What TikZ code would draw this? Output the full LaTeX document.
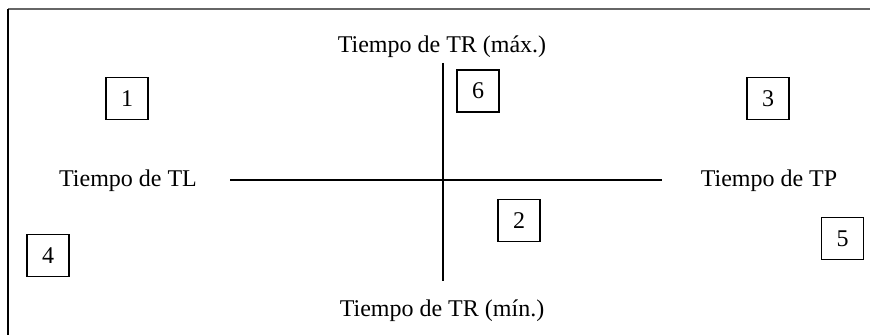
\documentclass[tikz,border=0pt]{standalone}
\usepackage{fontspec}
\setmainfont{Liberation Serif}

\begin{document}
\begin{tikzpicture}[x=0.5pt,y=-0.5pt,
    numbox/.style={draw,line width=0.6pt,minimum size=21pt,inner sep=0pt,font=\fontsize{12}{14}\selectfont},
    axislabel/.style={anchor=base,inner sep=0pt,font=\fontsize{12}{14}\selectfont}]
            \useasboundingbox (0,0) rectangle (870,335);
            % Frame:
            % only the top and left sides are shown
            \coordinate (frameTL) at (8,9);
            \coordinate (frameTR) at (870,9);
            \coordinate (frameBL) at (8,335);
            \draw [line width=0.9pt,gray!80!black] (frameTL) -- (frameTR);
            \draw [line width=0.6pt] (frameTL) -- (frameBL);

            \begin{scope}[line width=0.6pt]
            % Axes:
            % Labels are placed with `node`s at the ends of both lines
            \node [axislabel] (trmax) at (442,53)  {Tiempo de TR (máx.)};
            \node [axislabel] (trmin) at (442,317) {Tiempo de TR (mín.)};
            \node [axislabel] (tl)    at (128,187) {Tiempo de TL};
            \node [axislabel] (tp)    at (769,187) {Tiempo de TP};

            \coordinate (left)   at (230,180);
            \coordinate (right)  at (662,180);
            \coordinate (top)    at (443,63);
            \coordinate (bottom) at (443,281);
            \draw (left) -- (right);
            \draw (top) -- (bottom);
            \end{scope}

            % Numbered boxes:
            \foreach \n/\x/\y in {1/127/98.5, 2/519/220.5, 3/768/98.5,
                                  4/48/255.5, 5/842.5/238.5, 6/478/91}{
                \node [numbox] (box\n) at (\x,\y) {\n};
            }
        \end{tikzpicture}
\end{document}
